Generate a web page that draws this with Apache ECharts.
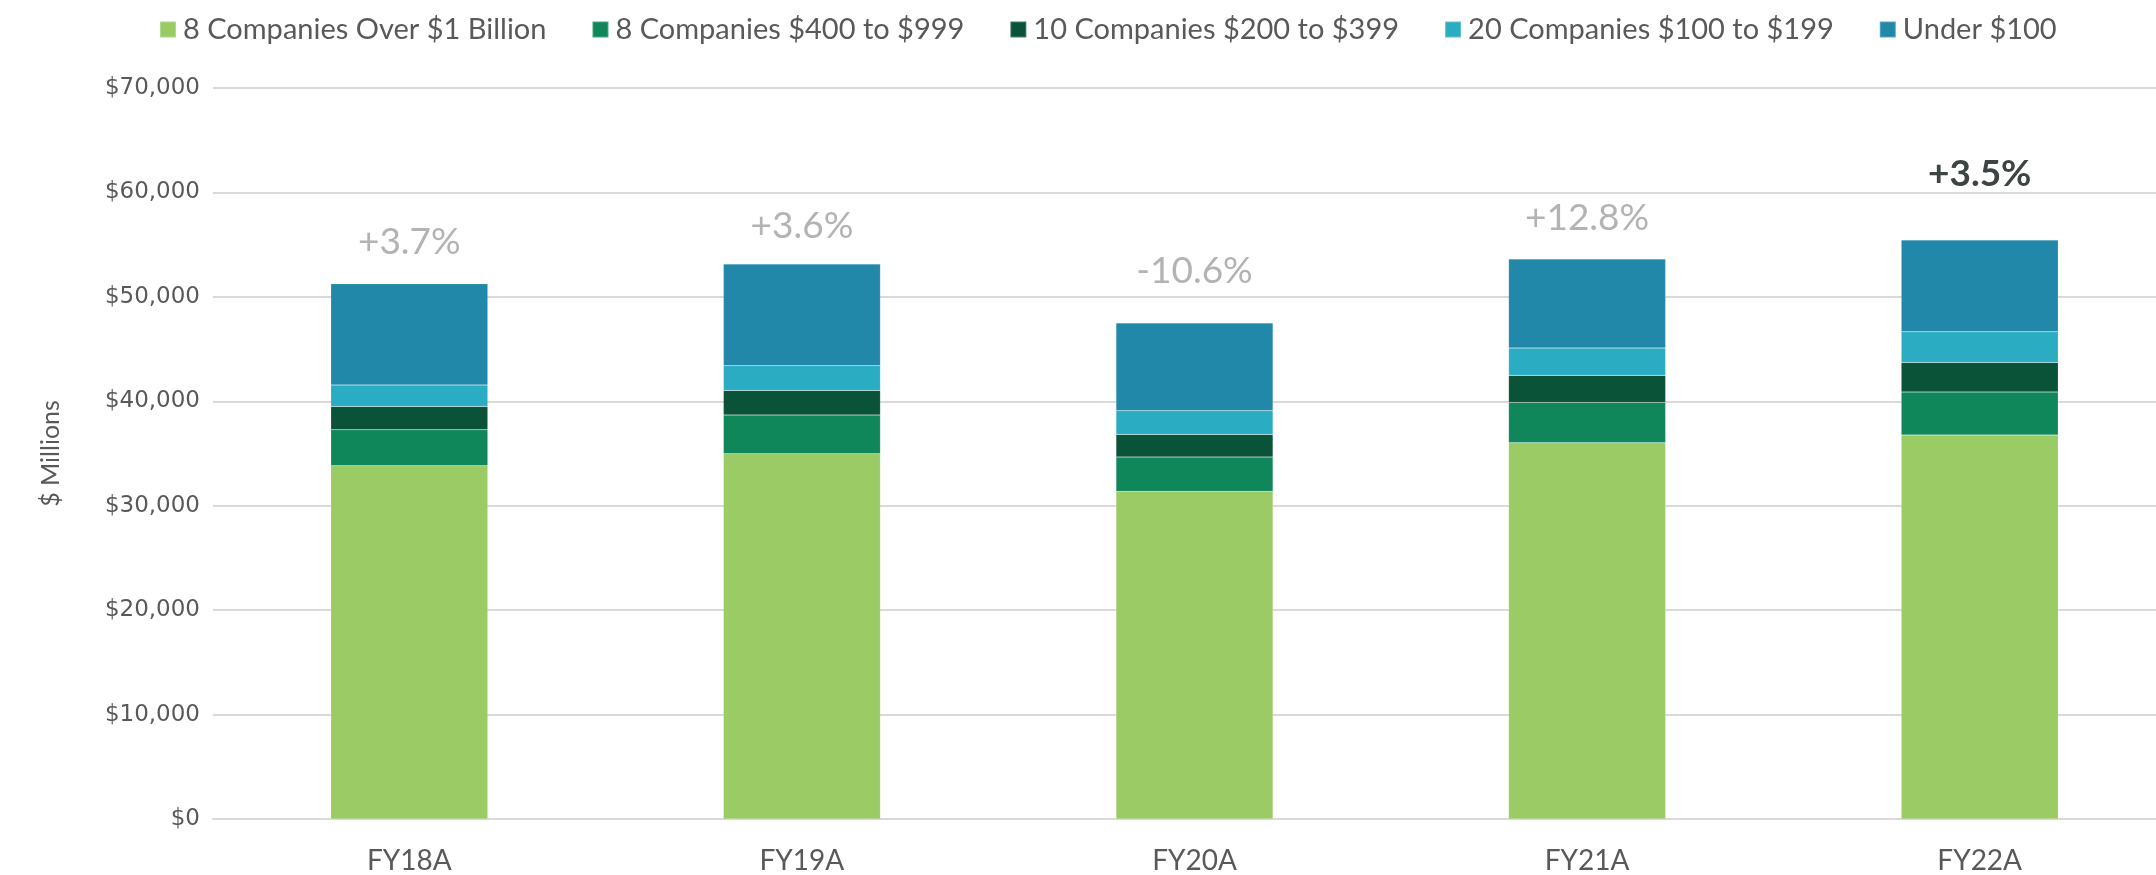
<!DOCTYPE html>
<html>
<head>
<meta charset="utf-8">
<script src="https://cdn.jsdelivr.net/npm/echarts@6/dist/echarts.min.js"></script>
<style>
  html, body { margin: 0; padding: 0; background: #fff; }
  #chart { width: 2156px; height: 875px; }
</style>
</head>
<body>
<div id="chart"></div>
<script>
var years = ['FY18A', 'FY19A', 'FY20A', 'FY21A', 'FY22A'];
var overBillion = [33830, 34980, 31370, 36030, 36770];
var from400to999 = [3450, 3710, 3290, 3860, 4120];
var from200to399 = [2230, 2350, 2170, 2590, 2830];
var from100to199 = [2050, 2370, 2270, 2620, 2940];
var under100 = [9700, 9730, 8400, 8520, 8780];
var growth = ['+3.7%', '+3.6%', '-10.6%', '+12.8%', '+3.5%'];

// label lift above each bar, in px (placement only)
var labelLift = [23, 20, 33, 22, 47];
var highlightIndex = 4;

var grey = '#595959';
var font = 'Lato, "Noto Sans", sans-serif';

function stackSeries(name, values, color) {
    return {
        name: name,
        type: 'bar',
        stack: 'total',
        barWidth: '40%',
        itemStyle: { color: color, borderColor: 'rgba(255,255,255,0.25)', borderWidth: 0.5 },
        emphasis: { disabled: true },
        data: values
    };
}

var topSeries = stackSeries('Under $100', under100.map(function (v, i) {
    var bold = i === highlightIndex;
    return {
        value: v,
        label: {
            show: true,
            position: 'top',
            distance: labelLift[i],
            formatter: growth[i],
            fontFamily: font,
            fontSize: 37,
            fontWeight: bold ? 'bold' : 'normal',
            color: bold ? '#3d4443' : '#b3b3b6'
        }
    };
}), '#2188aa');

var chart = echarts.init(document.getElementById('chart'));
chart.setOption({
    animation: false,
    legend: {
        top: 10,
        left: 154,
        itemWidth: 16,
        itemHeight: 16,
        itemGap: 45,
        icon: 'rect',
        textStyle: { fontFamily: font, fontSize: 29, color: grey, padding: [0, 0, 0, 2] },
        data: ['8 Companies Over $1 Billion', '8 Companies $400 to $999', '10 Companies $200 to $399',
            '20 Companies $100 to $199', 'Under $100']
    },
    grid: { left: 213, right: -20, top: 88, bottom: 56, outerBoundsMode: 'none' },
    xAxis: {
        type: 'category',
        data: years,
        axisLine: { lineStyle: { color: '#d9d9d9', width: 2 } },
        axisTick: { show: false },
        axisLabel: { fontFamily: font, fontSize: 28, color: grey, margin: 28 }
    },
    yAxis: {
        type: 'value',
        min: 0,
        max: 70000,
        interval: 10000,
        name: '$ Millions',
        nameLocation: 'middle',
        nameGap: 150,
        nameTextStyle: { fontFamily: font, fontSize: 25, color: grey },
        axisLine: { show: false },
        axisTick: { show: false },
        splitLine: { lineStyle: { color: '#d9d9d9', width: 2 } },
        axisLabel: {
            fontFamily: '"DejaVu Sans", Verdana, sans-serif',
            fontSize: 23,
            color: grey,
            margin: 13,
            formatter: function (v) {
                return '$' + v.toLocaleString('en-US');
            }
        }
    },
    series: [
        stackSeries('8 Companies Over $1 Billion', overBillion, '#9acb65'),
        stackSeries('8 Companies $400 to $999', from400to999, '#10875b'),
        stackSeries('10 Companies $200 to $399', from200to399, '#0a5238'),
        stackSeries('20 Companies $100 to $199', from100to199, '#2aadc2'),
        topSeries
    ]
});
</script>
</body>
</html>
